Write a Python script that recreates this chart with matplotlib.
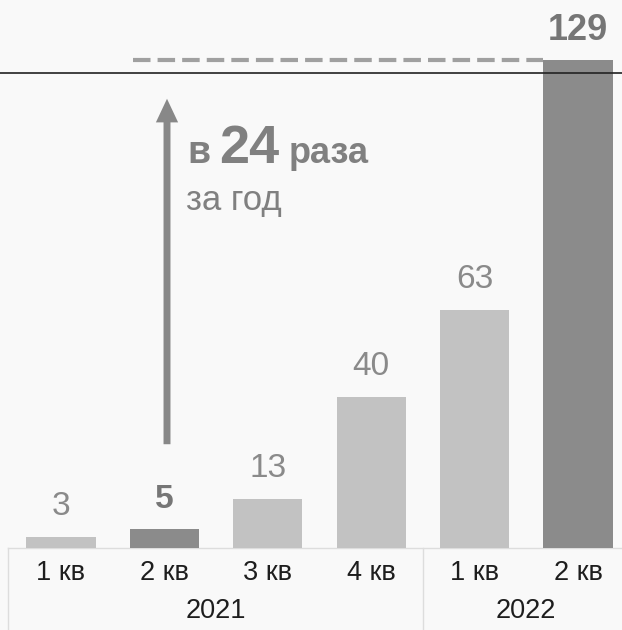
"""Bar chart: quarterly values 2021-2022, growth 24x over a year."""

import matplotlib

matplotlib.use("Agg")

import matplotlib.pyplot as plt
from matplotlib.lines import Line2D
from matplotlib.patches import FancyArrowPatch

plt.rcParams["font.family"] = ["Liberation Sans", "DejaVu Sans"]

quarters = ["1 кв", "2 кв", "3 кв", "4 кв", "1 кв", "2 кв"]
years = ["2021", "2022"]
year_spans = [(0, 3), (4, 5)]
values = [3, 5, 13, 40, 63, 129]
highlight = [False, True, False, False, False, True]
growth_label = "24"

W, H = 622, 630
X0, DX = 61.0, 103.4      # pixel of first bar centre, spacing
Y0, DY = 548.0, 3.78      # pixel of baseline (from top), px per unit

LIGHT = "#c2c2c2"
DARK = "#8b8b8b"
TEXT_GREY = "#8a8a8a"

fig = plt.figure(figsize=(W / 100, H / 100), dpi=100, facecolor="#f9f9f9")
ax = fig.add_axes([0, 0, 1, 1])
ax.set_facecolor("#f9f9f9")
ax.set_xlim(-X0 / DX, (W - X0) / DX)
ax.set_ylim(-(H - Y0) / DY, Y0 / DY)
ax.axis("off")


def px_x(px):
    return (px - X0) / DX


def px_y(py):
    return (Y0 - py) / DY


xs = list(range(len(values)))
colors = [DARK if h else LIGHT for h in highlight]
bars = ax.bar(xs, values, width=0.67, color=colors, zorder=2)

for x, v, h in zip(xs, values, highlight):
    ax.text(x, v + 30 / DY, str(v), ha="center", va="center",
            fontsize=26 if x == len(values) - 1 else 24,
            fontweight="bold" if h else "normal",
            color="#767676" if h else TEXT_GREY, zorder=3)

# dashed reference line at the last value
ax.plot([px_x(133), xs[-1] - 0.335], [values[-1], values[-1]],
        ls=(0, (4.2, 1.7)), lw=3, color="#a0a0a0", zorder=1)

# horizontal rule of the slide
fig.add_artist(Line2D([0, 1], [1 - 73 / H, 1 - 73 / H], color="#222222", lw=1.2, zorder=5))

# growth arrow
arrow = FancyArrowPatch((px_x(167), px_y(447)), (px_x(167), px_y(96)),
                        arrowstyle="simple,tail_width=5,head_width=16,head_length=17",
                        mutation_scale=1, color="#888888", lw=0, zorder=3)
ax.add_patch(arrow)

ax.text(px_x(187), px_y(163), "в", fontsize=27, fontweight="bold", color="#808080", va="baseline")
ax.text(px_x(219), px_y(163), growth_label, fontsize=39, fontweight="bold", color="#808080", va="baseline")
ax.text(px_x(289), px_y(163), "раза", fontsize=26, fontweight="bold", color="#808080", va="baseline")
ax.text(px_x(186), px_y(210), "за год", fontsize=25, color="#808080", va="baseline")

# category table under the bars
grid_c = "#dddddd"
ax.plot([px_x(8), px_x(W)], [0, 0], color=grid_c, lw=1, zorder=1)
ax.plot([px_x(8), px_x(8)], [0, px_y(H)], color=grid_c, lw=1)
ax.plot([px_x(423), px_x(423)], [0, px_y(H)], color=grid_c, lw=1)

for x, q in zip(xs, quarters):
    ax.text(x, px_y(573), q, ha="center", va="center", fontsize=19.5, color="#1e1e1e")
for yr, (a, b) in zip(years, year_spans):
    ax.text((a + b) / 2, px_y(611), yr, ha="center", va="center", fontsize=19.5, color="#1e1e1e")

fig.savefig("out.png", dpi=100, facecolor=fig.get_facecolor())
